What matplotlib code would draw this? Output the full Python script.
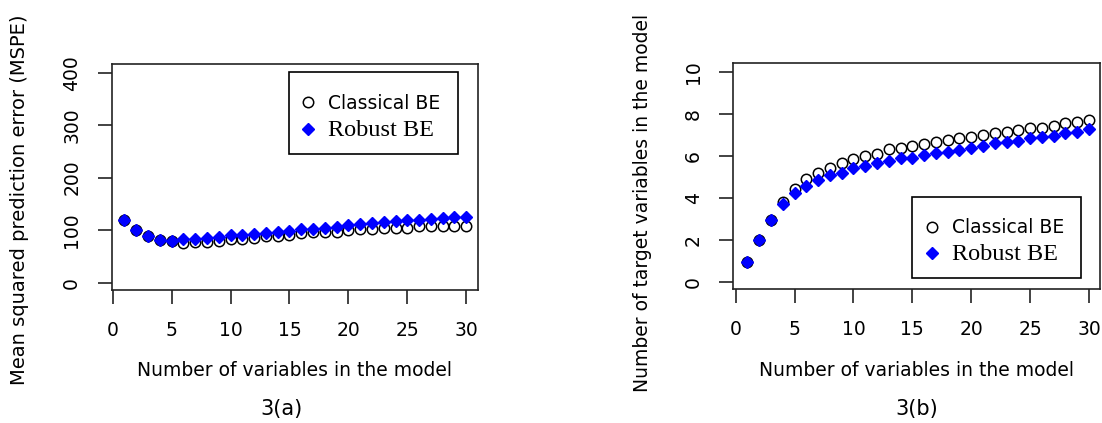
import numpy as np
import matplotlib
matplotlib.use("Agg")
import matplotlib.pyplot as plt
from matplotlib.lines import Line2D
from matplotlib.patches import Rectangle

# number of variables in the model
n_vars = list(range(1, 31))

# 3(a) mean squared prediction error
mspe_classical = [119, 100, 89, 81, 80, 75, 77, 78, 79, 83, 83, 86, 88, 89, 91,
                  94, 96, 97, 97, 100, 102, 102, 104, 104, 104, 107, 107, 107, 107, 107]
mspe_robust = [119, 100, 89, 81, 80, 83, 83, 86, 87, 91, 91, 93, 94, 96, 99,
               102, 103, 105, 106, 109, 111, 113, 115, 118, 119, 119, 121, 123, 126, 126]

# 3(b) number of target variables in the model
target_classical = [0.96, 1.99, 2.95, 3.82, 4.41, 4.89, 5.18, 5.45, 5.65, 5.85,
                    6.02, 6.10, 6.32, 6.40, 6.48, 6.58, 6.69, 6.77, 6.88, 6.92,
                    7.01, 7.09, 7.16, 7.24, 7.32, 7.35, 7.45, 7.56, 7.61, 7.72]
target_robust = [0.96, 1.99, 2.95, 3.71, 4.25, 4.57, 4.86, 5.10, 5.21, 5.41,
                 5.53, 5.68, 5.76, 5.89, 5.92, 6.05, 6.16, 6.21, 6.29, 6.37,
                 6.48, 6.61, 6.69, 6.73, 6.85, 6.92, 6.96, 7.09, 7.16, 7.28]

xticks = [0, 5, 10, 15, 20, 25, 30]
yticks_a = [0, 100, 200, 300, 400]
yticks_b = [0, 2, 4, 6, 8, 10]
labels = ["Classical BE", "Robust BE"]

FS = 13.5
SPINE = "#222222"

fig = plt.figure(figsize=(11.02, 4.23), dpi=100)
ax1 = fig.add_axes([0.1014, 0.3144, 0.3324, 0.5343])
ax2 = fig.add_axes([0.6654, 0.3161, 0.3328, 0.5343])


def style(ax, yticks, xlim, ylim):
    ax.set_xlim(*xlim)
    ax.set_ylim(*ylim)
    ax.set_xticks(xticks)
    ax.set_yticks(yticks)
    for s in ax.spines.values():
        s.set_linewidth(1.2)
        s.set_color(SPINE)
    ax.tick_params(axis="both", direction="out", length=10, width=1.2,
                   color=SPINE, labelsize=FS, pad=12)
    ax.tick_params(axis="y", labelrotation=90)
    plt.setp(ax.get_yticklabels(), va="center")


def draw(ax, cls, rob, frame, anchor):
    ax.plot(n_vars, cls, linestyle="none", marker="o", markersize=7.5,
            markerfacecolor="none", markeredgecolor="black", markeredgewidth=1.1)
    ax.plot(n_vars, rob, linestyle="none", marker="D", markersize=6,
            markerfacecolor="blue", markeredgecolor="blue")
    # legend box (R style, drawn separately so the padding can match)
    x0, y0, x1, y1 = frame
    ax.add_patch(Rectangle((x0, y0), x1 - x0, y1 - y0, transform=ax.transAxes,
                           facecolor="white", edgecolor="black", linewidth=1.2,
                           zorder=4))
    handles = [
        Line2D([], [], linestyle="none", marker="o", markersize=7.5,
               markerfacecolor="none", markeredgecolor="black", markeredgewidth=1.1),
        Line2D([], [], linestyle="none", marker="D", markersize=6,
               markerfacecolor="blue", markeredgecolor="blue"),
    ]
    leg = ax.legend(handles, labels, loc="upper left", bbox_to_anchor=anchor,
                    frameon=False, fontsize=FS, borderpad=0, labelspacing=0.35,
                    handlelength=1.0, handletextpad=0.57, borderaxespad=0)
    leg.set_zorder(5)
    t = leg.get_texts()
    t[1].set_fontfamily("Liberation Serif")
    t[1].set_fontsize(17.5)


draw(ax1, mspe_classical, mspe_robust, (0.484, 0.602, 0.945, 0.965), (0.510, 0.867))
style(ax1, yticks_a, (-0.08, 31.0), (-14, 416.6))

draw(ax2, target_classical, target_robust, (0.487, 0.05, 0.948, 0.408), (0.516, 0.315))
style(ax2, yticks_b, (-0.2, 30.93), (-0.36, 10.43))

fig.text(0.2676, 1 - 370 / 423, "Number of variables in the model", ha="center",
         va="center", fontsize=FS)
fig.text(0.8318, 1 - 370 / 423, "Number of variables in the model", ha="center",
         va="center", fontsize=FS)
fig.text(282 / 1102, 1 - 409 / 423, "3(a)", ha="center", va="center", fontsize=15)
fig.text(917 / 1102, 1 - 409 / 423, "3(b)", ha="center", va="center", fontsize=15)
fig.text(20 / 1102, 1 - 200 / 423, "Mean squared prediction error (MSPE)",
         rotation=90, ha="center", va="center", fontsize=14)
fig.text(643 / 1102, 1 - 203 / 423, "Number of target variables in the model",
         rotation=90, ha="center", va="center", fontsize=FS)

fig.savefig("out.png", dpi=100)
